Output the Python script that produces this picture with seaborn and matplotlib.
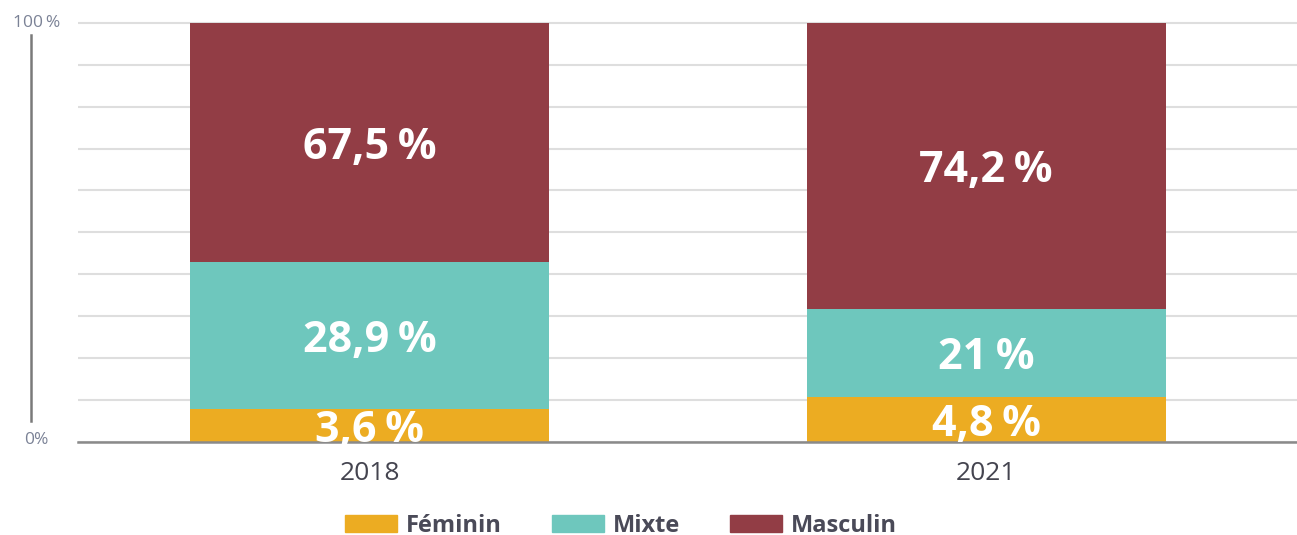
import matplotlib
matplotlib.use("Agg")
import matplotlib.pyplot as plt
import matplotlib.patches as mpatches
import numpy as np
import pandas as pd
import seaborn as sns

# -------------------------------
# Data (segment heights as drawn, labels as printed)
# -------------------------------
years = ["2018", "2021"]
series = ["Féminin", "Mixte", "Masculin"]
feminin = [7.8, 10.8]
mixte = [35.2, 20.9]
masculin = [57.0, 68.3]
feminin_lbl = ["3,6\u2009%", "4,8\u2009%"]
mixte_lbl = ["28,9\u2009%", "21\u2009%"]
masculin_lbl = ["67,5\u2009%", "74,2\u2009%"]
colors = {"Féminin": "#ECAC22", "Mixte": "#6EC7BD", "Masculin": "#923D45"}

sns.set_style("white")
plt.rcParams["font.family"] = ["Open Sans", "DejaVu Sans"]

df = pd.DataFrame({"year": years, "Féminin": feminin, "Mixte": mixte, "Masculin": masculin})
df["top_mixte"] = df["Féminin"] + df["Mixte"]
df["top_masculin"] = df["top_mixte"] + df["Masculin"]

W, H = 1297, 535
fig = plt.figure(figsize=(W / 100, H / 100), dpi=100)
ax = fig.add_axes([78 / W, 1 - 442 / H, (W - 78) / W, (442 - 20.2) / H])

# stacked bars: draw the cumulative totals from tallest to shortest
bw = 0.582
for col, name in [("top_masculin", "Masculin"), ("top_mixte", "Mixte"), ("Féminin", "Féminin")]:
    sns.barplot(data=df, x="year", y=col, color=colors[name], width=bw,
                saturation=1, linewidth=0, ax=ax, zorder=2)

# labels in the middle of each segment
for i, row in df.iterrows():
    segs = [(0, row["Féminin"], feminin_lbl[i]),
            (row["Féminin"], row["Mixte"], mixte_lbl[i]),
            (row["top_mixte"], row["Masculin"], masculin_lbl[i])]
    for bottom, h, txt in segs:
        ax.text(i, bottom + h / 2, txt, ha="center", va="center_baseline", color="white",
                fontsize=31, fontweight="bold", zorder=3)

ax.set_xlim(-0.473, 1.504)
ax.set_ylim(0, 100.6)
ax.set_yticks(np.arange(0, 101, 10))
ax.yaxis.grid(True, color="#dedede", lw=1.5)
ax.set_axisbelow(True)
ax.tick_params(axis="y", length=0, labelleft=False)
ax.tick_params(axis="x", length=0, pad=14, labelsize=19, labelcolor="#44444f")
ax.set_xlabel("")
ax.set_ylabel("")

for s in ["top", "right"]:
    ax.spines[s].set_visible(False)
ax.spines["bottom"].set_color("#8a8a8a")
ax.spines["bottom"].set_linewidth(1.8)
ax.spines["bottom"].set_zorder(2.5)
ax.spines["left"].set_position(("outward", 34))
ax.spines["left"].set_bounds(5, 97)
ax.spines["left"].set_color("#7a7a7a")
ax.spines["left"].set_linewidth(1.8)

ytr = ax.get_yaxis_transform()
ax.text(-0.034, 100, "100\u2009%", transform=ytr, ha="center", va="center",
        fontsize=12.5, color="#7b8296")
ax.text(-0.034, 0.5, "0%", transform=ytr, ha="center", va="center",
        fontsize=12.5, color="#7b8296")

handles = [mpatches.Patch(color=colors[s]) for s in series]
fig.legend(handles, series, loc="center", bbox_to_anchor=(621 / W, 9.5 / H), ncol=3,
           frameon=False, prop=dict(weight="bold", size=17), labelcolor="#4a4a58",
           handlelength=2.2, handleheight=0.7, handletextpad=0.4, columnspacing=2.1)

fig.savefig("out.png", dpi=100)
